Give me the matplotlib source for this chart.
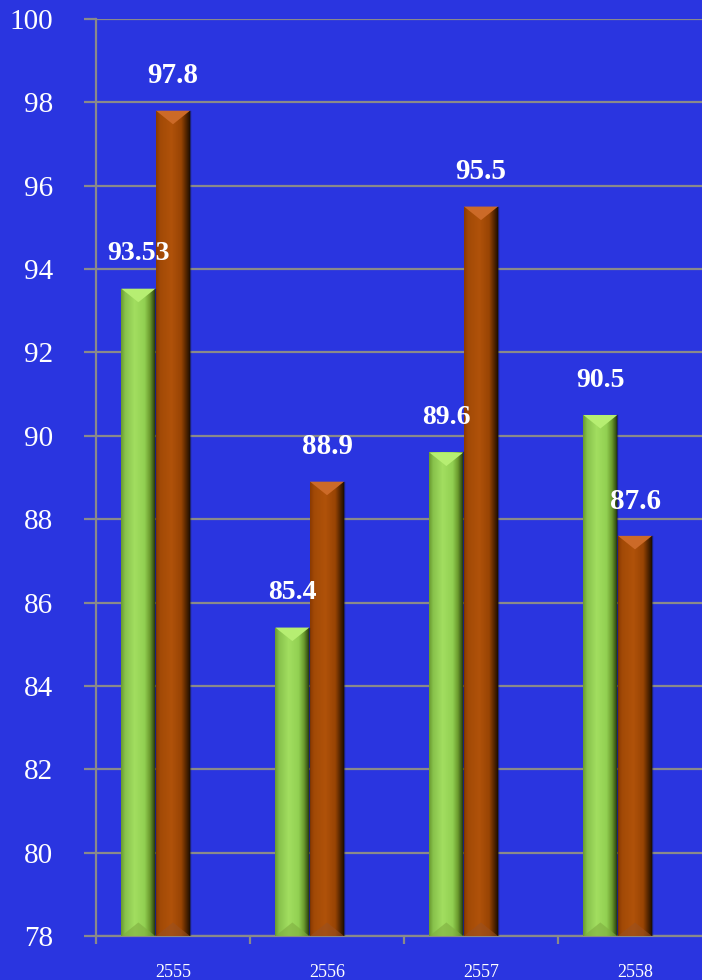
import numpy as np
import matplotlib
matplotlib.use("Agg")
import matplotlib.pyplot as plt
from matplotlib.patches import Polygon
from matplotlib.colors import to_rgb

categories = ["2555", "2556", "2557", "2558"]
series_green = [93.53, 85.4, 89.6, 90.5]
series_brown = [97.8, 88.9, 95.5, 87.6]
green_labels = ["93.53", "85.4", "89.6", "90.5"]
brown_labels = ["97.8", "88.9", "95.5", "87.6"]
yticks = [78, 80, 82, 84, 86, 88, 90, 92, 94, 96, 98, 100]

BG = "#2a35e0"
GRID = "#8a8a8a"
SERIF = ["Liberation Serif", "DejaVu Serif"]

fig = plt.figure(figsize=(7.02, 9.8), dpi=100, facecolor=BG)
ax = fig.add_axes([96/702, 1-936/980, 616/702, 917/980])
ax.set_facecolor(BG)

x = np.arange(len(categories))
w = 0.22
ymin, ymax = 78, 100
ax.set_xlim(-0.5, 3.5)
ax.set_ylim(ymin, ymax)

def stops_to_img(stops, n=64):
    pos = np.array([s[0] for s in stops])
    cols = np.array([to_rgb(s[1]) for s in stops])
    t = np.linspace(0, 1, n)
    img = np.stack([np.interp(t, pos, cols[:, k]) for k in range(3)], axis=-1)
    return img[np.newaxis, :, :]

green_grad = stops_to_img([(0, "#6a9a30"), (0.12, "#88c24c"), (0.4, "#a2de60"),
                           (0.7, "#92d052"), (0.86, "#6a9a2c"), (1.0, "#2c4410")])
brown_grad = stops_to_img([(0, "#8a3a02"), (0.12, "#a24a06"), (0.45, "#b0520a"),
                           (0.75, "#984404"), (0.88, "#5a2800"), (1.0, "#241000")])

bars_g = ax.bar(x - w - 0.005, [v - ymin for v in series_green], w, bottom=ymin, color="#9ad85a", zorder=2)
bars_b = ax.bar(x, [v - ymin for v in series_brown], w, bottom=ymin, color="#a84e08", zorder=2)

px_per_unit_y = 917 / 22
px_per_unit_x = 154

def decorate(bars, grad, top_col, bot_col):
    for b in bars:
        bx, by, bw, bh = b.get_x(), b.get_y(), b.get_width(), b.get_height()
        im = ax.imshow(grad, extent=[bx, bx + bw, by, by + bh], aspect="auto",
                       zorder=3, interpolation="bilinear")
        im.set_clip_path(b)
        dh = (bw * px_per_unit_x / 2) / px_per_unit_y * 0.8
        top = by + bh
        ax.add_patch(Polygon([[bx, top], [bx + bw, top], [bx + bw/2, top - dh]],
                             closed=True, facecolor=top_col, edgecolor="none", zorder=4))
        ax.add_patch(Polygon([[bx, by], [bx + bw, by], [bx + bw/2, by + dh]],
                             closed=True, facecolor=bot_col, edgecolor="none", zorder=4, alpha=0.6))
        ax.plot([bx + bw, bx + bw], [by, top], color="#101010", lw=1.0, alpha=0.5, zorder=4)

decorate(bars_g, green_grad, "#b6ee72", "#7fae40")
decorate(bars_b, brown_grad, "#cc6a28", "#9a5020")

for b, lab in zip(bars_g, green_labels):
    ax.annotate(lab, (b.get_x() + b.get_width()/2, b.get_y() + b.get_height()),
                xytext=(0, 25), textcoords="offset points", ha="center", va="center",
                color="white", fontsize=20, fontweight="bold", family=SERIF, zorder=6)
for b, lab in zip(bars_b, brown_labels):
    ax.annotate(lab, (b.get_x() + b.get_width()/2, b.get_y() + b.get_height()),
                xytext=(0, 25), textcoords="offset points", ha="center", va="center",
                color="white", fontsize=21, fontweight="bold", family=SERIF, zorder=6)

ax.set_yticks(yticks)
ax.set_yticklabels([str(t) for t in yticks], family=SERIF, fontsize=21, color="white")
ax.yaxis.grid(True, color=GRID, lw=1.6, zorder=0)
ax.set_axisbelow(True)
ax.tick_params(axis="y", length=9, width=1.6, color=GRID, pad=22)

ax.set_xticks(np.arange(-0.5, 4.0, 1.0))
ax.set_xticklabels([])
ax.tick_params(axis="x", which="major", length=6, width=1.6, color=GRID, direction="out")
ax.set_xticks(x, minor=True)
ax.set_xticklabels(categories, minor=True, family=SERIF, fontsize=13, color="white")
ax.tick_params(axis="x", which="minor", length=0, pad=20)

for s in ["top", "right"]:
    ax.spines[s].set_visible(False)
for s in ["left", "bottom"]:
    ax.spines[s].set_color(GRID)
    ax.spines[s].set_linewidth(1.6)

fig.savefig("out.png", dpi=100, facecolor=BG)
